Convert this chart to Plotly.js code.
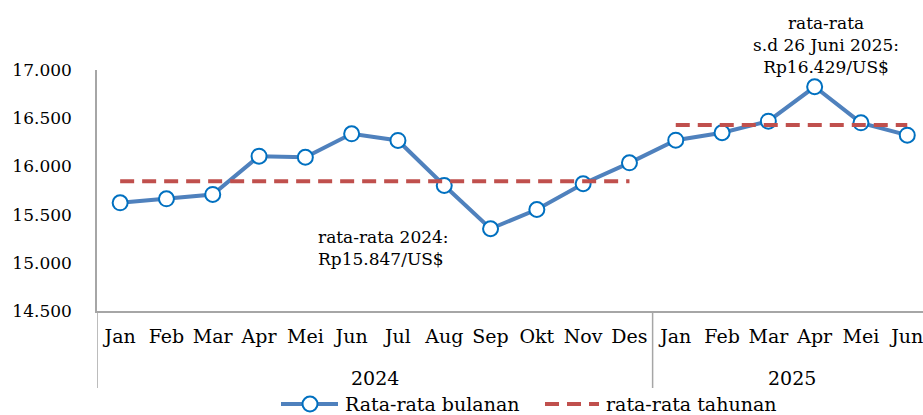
<!DOCTYPE html>
<html>
<head>
<meta charset="utf-8">
<script src="https://cdn.plot.ly/plotly-3.0.1.min.js"></script>
<style>html,body{margin:0;padding:0;background:#fff;}#chart{width:923px;height:415px;}</style>
</head>
<body>
<div id="chart"></div>
<script>
const years = ["2024","2024","2024","2024","2024","2024","2024","2024","2024","2024","2024","2024","2025","2025","2025","2025","2025","2025"];
const months = ["Jan","Feb","Mar","Apr","Mei","Jun","Jul","Aug","Sep","Okt","Nov","Des","Jan","Feb","Mar","Apr","Mei","Jun"];
const monthly = [15622,15664,15709,16106,16095,16338,16269,15802,15353,15553,15820,16037,16272,16349,16469,16826,16452,16324];
const avg2024 = 15847;
const avg2025 = 16429;
const yTicks = [14500,15000,15500,16000,16500,17000];
const seriesNames = ['Rata-rata bulanan', 'rata-rata tahunan'];

const FONT = "DejaVu Serif, Liberation Serif, serif";
const GRAY = '#a6a6a6';
const BLUE = '#4F81BD', MARK = '#0070C0', RED = '#C0504D';
const DASH = '14px,8px';

const xi = months.map((_, i) => i);
const groups = [];
years.forEach((y, i) => {
  const g = groups[groups.length - 1];
  if (!g || g.year !== y) groups.push({year: y, first: i, last: i});
  else g.last = i;
});
const avgByYear = {"2024": avg2024, "2025": avg2025};

const traces = [
  {
    x: xi, y: monthly, type: 'scatter', mode: 'lines+markers',
    name: seriesNames[0],
    line: {color: BLUE, width: 4},
    marker: {symbol: 'circle', size: 15, color: '#ffffff', line: {color: MARK, width: 2}}
  }
];
groups.forEach((g) => {
  traces.push({
    x: [xi[g.first], xi[g.last]], y: [avgByYear[g.year], avgByYear[g.year]],
    type: 'scatter', mode: 'lines', name: seriesNames[1],
    line: {color: RED, width: 4, dash: DASH}
  });
});

// page-pixel helpers for paper coordinates (plot area: x 97..923, y 70..311)
const PL = 97, PW = 826, PT = 70, PH = 241;
const px = v => (v - PL) / PW;
const py = v => (PT + PH - v) / PH;

const divBottom = py(388);
const shapes = [];
shapes.push({type: 'line', xref: 'x', yref: 'paper', x0: -0.5, x1: -0.5, y0: 0, y1: divBottom, line: {color: GRAY, width: 1.5}});
groups.slice(1).forEach(g => {
  shapes.push({type: 'line', xref: 'x', yref: 'paper', x0: g.first - 0.5, x1: g.first - 0.5, y0: 0, y1: divBottom, line: {color: GRAY, width: 1.5}});
});

// custom legend
const legY = py(404);
shapes.push(
  {type: 'line', xref: 'paper', yref: 'paper', x0: px(281), x1: px(338), y0: legY, y1: legY, line: {color: BLUE, width: 4}},
  {type: 'circle', xref: 'paper', yref: 'paper', xsizemode: 'pixel', ysizemode: 'pixel', xanchor: px(310), yanchor: legY,
   x0: -7.5, x1: 7.5, y0: -7.5, y1: 7.5, fillcolor: '#ffffff', line: {color: MARK, width: 2}},
  {type: 'line', xref: 'paper', yref: 'paper', x0: px(545), x1: px(599), y0: legY, y1: legY, line: {color: RED, width: 4, dash: DASH}}
);

const annotations = groups.map(g => ({
  xref: 'x', yref: 'paper', x: (g.first + (g.year === "2025" ? 17 : g.last)) / 2,
  y: py(378), text: g.year, showarrow: false, xanchor: 'center', yanchor: 'middle',
  font: {family: FONT, size: 19, color: '#000'}
}));
annotations.push(
  {xref: 'paper', yref: 'paper', x: px(343), y: legY, xanchor: 'left', yanchor: 'middle', text: seriesNames[0], showarrow: false,
   font: {family: FONT, size: 19, color: '#000'}},
  {xref: 'paper', yref: 'paper', x: px(604), y: legY, xanchor: 'left', yanchor: 'middle', text: seriesNames[1], showarrow: false,
   font: {family: FONT, size: 19, color: '#000'}},
  {xref: 'paper', yref: 'paper', x: px(383), y: py(248), xanchor: 'center', yanchor: 'middle', text: 'rata-rata 2024:<br>Rp15.847/US$', showarrow: false,
   font: {family: FONT, size: 17, color: '#000'}, align: 'left'},
  {xref: 'paper', yref: 'paper', x: px(826), y: py(45), xanchor: 'center', yanchor: 'middle', text: 'rata-rata<br>s.d 26 Juni 2025:<br>Rp16.429/US$', showarrow: false,
   font: {family: FONT, size: 17, color: '#000'}, align: 'center'}
);

const layout = {
  width: 923, height: 415,
  margin: {l: 97, r: 0, t: 70, b: 104},
  paper_bgcolor: '#ffffff', plot_bgcolor: '#ffffff',
  separators: ',.',
  font: {family: FONT, size: 17, color: '#000'},
  showlegend: false,
  xaxis: {
    range: [-0.5, 17.34], tickvals: xi, ticktext: months,
    showline: true, linecolor: GRAY, linewidth: 1.5,
    showgrid: false, zeroline: false, ticks: '', ticklabelstandoff: 7,
    ticklabeloverflow: 'allow',
    tickfont: {family: FONT, size: 19, color: '#000'}
  },
  yaxis: {
    range: [14500, 17000], tickvals: yTicks, tickformat: ',d',
    showline: true, linecolor: GRAY, linewidth: 1.5,
    showgrid: false, zeroline: false, ticks: '', ticklabelstandoff: 20,
    tickfont: {family: FONT, size: 17, color: '#000'}
  },
  shapes: shapes,
  annotations: annotations
};

Plotly.newPlot('chart', traces, layout, {displayModeBar: false, responsive: false});
</script>
</body>
</html>
